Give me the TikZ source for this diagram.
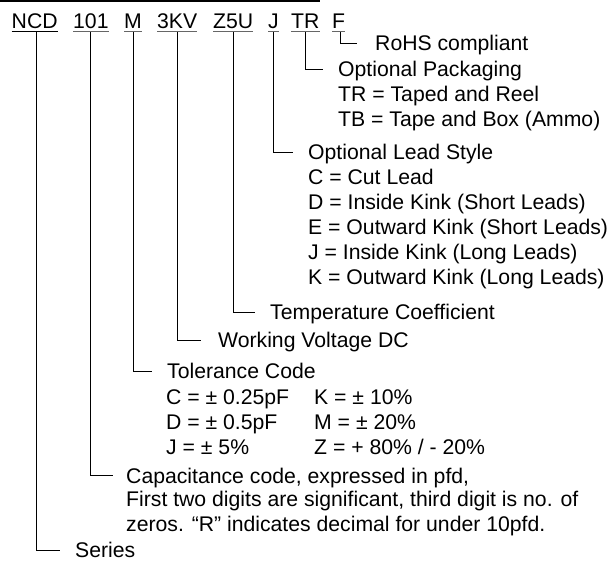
\documentclass[tikz,border=0pt]{standalone}
\usepackage{fontspec}
\setmainfont{Liberation Sans}
\usepackage{tikz}

\begin{document}
\begin{tikzpicture}[x=1pt,y=1pt]
\tikzstyle{every node}+=[inner sep=0pt, anchor=base west, text height=15pt, text depth=0pt, font=\fontsize{21.2}{25}\selectfont]
\tikzstyle{conn}=[black, line width=0.9pt]
\tikzstyle{uline}=[black!60, line width=0.8pt]
\useasboundingbox (0,0) rectangle (611,-561);
\draw [black, line width=2.5pt] (0,-1.2) -- (320,-1.2);
% part number
\node (ncd) at (11.5,-29) {NCD};
\node (cap) at (73,-29) {101};
\node (tol) at (124,-29) {M};
\node (volt) at (157,-29) {3KV};
\node (temp) at (213,-29) {Z5U};
\node (ls) at (268,-29) {J};
\node (pack) at (291,-29) {TR};
\node (rohs) at (332,-29) {F};
\draw [black, line width=1.2pt] ([yshift=-2.5pt]ncd.base west) -- ([yshift=-2.5pt]ncd.base east);
\foreach \n in {cap,tol,volt,temp,ls,pack,rohs}
  \draw [uline] ([yshift=-2.5pt]\n.base west) -- ([yshift=-2.5pt]\n.base east);
% descriptions
\node (rohsd) at (375,-51) {RoHS compliant};
\node (packd) at (338,-77) {Optional Packaging};
\node (packtr) at (338,-102) {TR = Taped and Reel};
\node (packtb) at (338,-127) {TB = Tape and Box (Ammo)};
\node (lsd) at (308,-160) {Optional Lead Style};
\foreach \t [count=\i] in {C = Cut Lead, D = Inside Kink (Short Leads), E = Outward Kink (Short Leads), J = Inside Kink (Long Leads), K = Outward Kink (Long Leads)}
  \node (ls\i) at (308,-160-25*\i) {\t};
\node (tempd) at (270,-320) {Temperature Coefficient};
\node (voltd) at (218,-348) {Working Voltage DC};
\node (told) at (167,-379) {Tolerance Code};
\node (tolc) at (166,-405) {C = ± 0.25pF};
\node (told2) at (166,-430) {D = ± 0.5pF};
\node (tolj) at (166,-455) {J = ± 5\%};
\node (tolk) at (314,-405) {K = ± 10\%};
\node (tolm) at (314,-430) {M = ± 20\%};
\node (tolz) at (314,-455) {Z = + 80\% / - 20\%};
\node (capd) at (126,-483) {Capacitance code, expressed in pfd,};
\node (capd2) at (126,-507) {First two digits are significant, third digit is no. of};
\node (capd3) at (126,-531) {zeros. “R” indicates decimal for under 10pfd.};
\node (ncdd) at (75,-557.5) {Series};
% leaders
\draw [conn] ([xshift=1.5pt,yshift=-3pt]ncd.south) |- ([xshift=-15pt]ncdd.west);
\draw [conn] ([yshift=-3pt]cap.south) |- ([xshift=-13pt]capd.west);
\draw [conn] ([yshift=-3pt]tol.south) |- ([xshift=-15pt]told.west);
\draw [conn] ([yshift=-3pt]volt.south) |- ([xshift=-17pt]voltd.west);
\draw [conn] ([yshift=-3pt]temp.south) |- ([xshift=-15pt]tempd.west);
\draw [conn] ([yshift=-3pt]ls.south) |- ([xshift=-15pt]lsd.west);
\draw [conn] ([yshift=-3pt]pack.south) |- ([xshift=-15pt]packd.west);
\draw [conn] ([xshift=1.5pt,yshift=-3pt]rohs.south) |- ([xshift=-18pt]rohsd.west);
\end{tikzpicture}
\end{document}
